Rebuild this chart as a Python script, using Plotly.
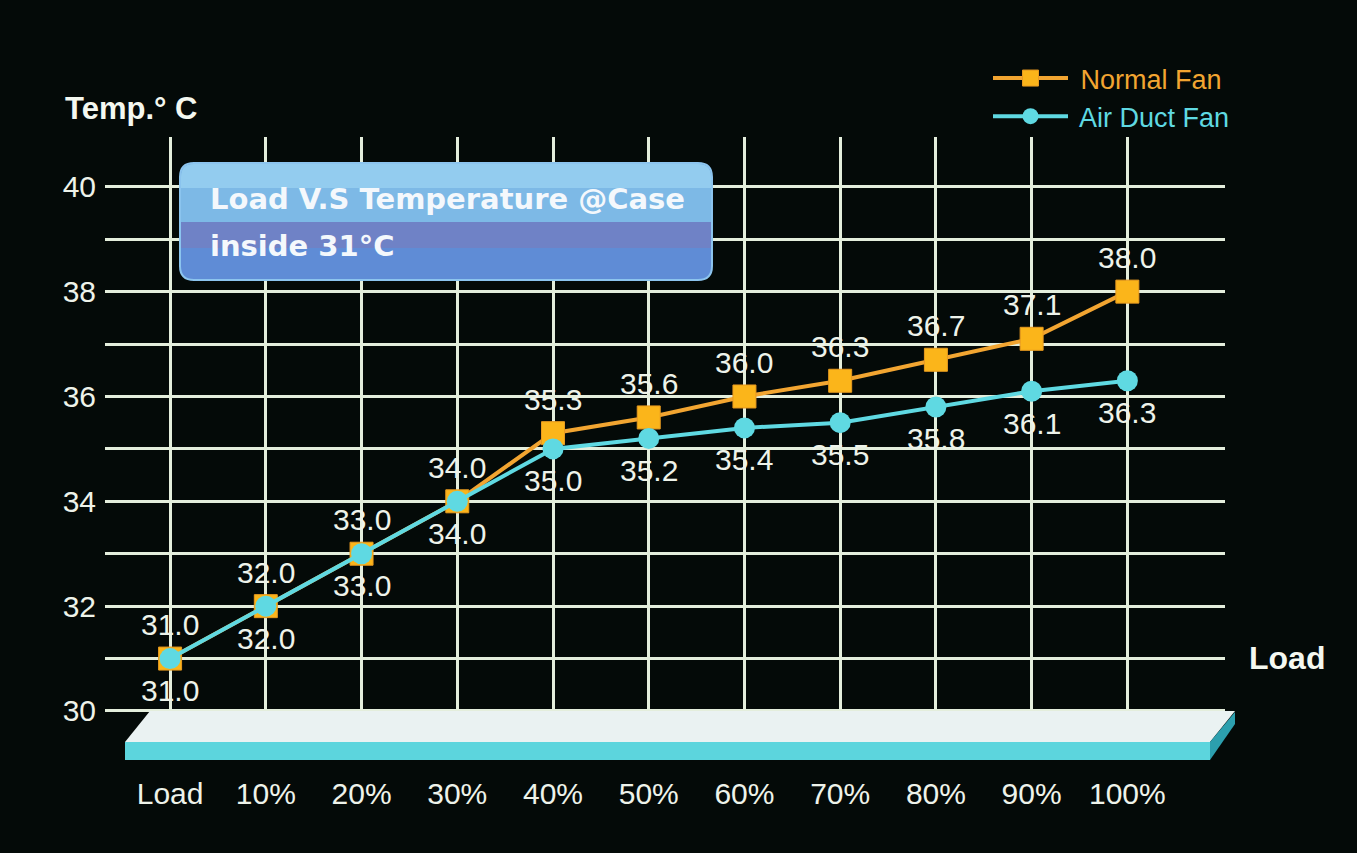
import plotly.graph_objects as go

# ---- data ----
loads = ["Load", "10%", "20%", "30%", "40%", "50%", "60%", "70%", "80%", "90%", "100%"]
normal_fan = [31.0, 32.0, 33.0, 34.0, 35.3, 35.6, 36.0, 36.3, 36.7, 37.1, 38.0]
air_duct_fan = [31.0, 32.0, 33.0, 34.0, 35.0, 35.2, 35.4, 35.5, 35.8, 36.1, 36.3]
y_tickvals = [30, 31, 32, 33, 34, 35, 36, 37, 38, 39, 40]
y_ticktext = ["30", "", "32", "", "34", "", "36", "", "38", "", "40"]

W, H = 1357, 853
PL, PR, PT, PB = 105, 1225, 137, 760  # plot area in pixels
FONT = "Arial, Liberation Sans, sans-serif"
BG = "#040a08"
GRID = "#e4eedc"
ORANGE = "#f2a531"
ORANGE_M = "#fbb51a"
CYAN = "#5fd9e2"
LABEL = "#eef3ea"


def px(x):
    return (x - PL) / (PR - PL)


def py(y):
    return (PB - y) / (PB - PT)


def poly(points):
    return "M " + " L ".join(f"{px(a):.5f},{py(b):.5f}" for a, b in points) + " Z"


def rrect(x0, y0, x1, y1, r, top=True, bottom=True):
    rt = r if top else 0
    rb = r if bottom else 0
    p = []
    p.append(f"M {px(x0 + rt):.5f},{py(y0):.5f}")
    p.append(f"L {px(x1 - rt):.5f},{py(y0):.5f}")
    p.append(f"Q {px(x1):.5f},{py(y0):.5f} {px(x1):.5f},{py(y0 + rt):.5f}")
    p.append(f"L {px(x1):.5f},{py(y1 - rb):.5f}")
    p.append(f"Q {px(x1):.5f},{py(y1):.5f} {px(x1 - rb):.5f},{py(y1):.5f}")
    p.append(f"L {px(x0 + rb):.5f},{py(y1):.5f}")
    p.append(f"Q {px(x0):.5f},{py(y1):.5f} {px(x0):.5f},{py(y1 - rb):.5f}")
    p.append(f"L {px(x0):.5f},{py(y0 + rt):.5f}")
    p.append(f"Q {px(x0):.5f},{py(y0):.5f} {px(x0 + rt):.5f},{py(y0):.5f} Z")
    return " ".join(p)


fig = go.Figure()

fig.add_trace(go.Scatter(
    x=loads, y=normal_fan, name=f"<span style='color:{ORANGE}'> Normal Fan</span>",
    mode="lines+markers",
    line=dict(color=ORANGE, width=4),
    marker=dict(symbol="square", size=23, color=ORANGE_M, line=dict(color="#e89a20", width=1)),
))
fig.add_trace(go.Scatter(
    x=loads, y=air_duct_fan, name=f"<span style='color:{CYAN}'> Air Duct Fan</span>",
    mode="lines+markers",
    line=dict(color=CYAN, width=4),
    marker=dict(symbol="circle", size=21, color=CYAN),
))

shapes = []
# title box
shapes.append(dict(type="path", xref="paper", yref="paper", layer="above",
                   path=rrect(180, 163, 712, 280, 14), fillcolor="#5f8cd6",
                   line=dict(color="#8cc4ee", width=2)))
shapes.append(dict(type="path", xref="paper", yref="paper", layer="above",
                   path=rrect(181, 164, 711, 222, 13, bottom=False), fillcolor="#7db9e6",
                   line=dict(width=0)))
shapes.append(dict(type="path", xref="paper", yref="paper", layer="above",
                   path=rrect(181, 164, 711, 188, 13, bottom=False), fillcolor="#93ccef",
                   line=dict(width=0)))
shapes.append(dict(type="path", xref="paper", yref="paper", layer="above",
                   path=poly([(181, 222), (711, 222), (711, 248), (181, 248)]), fillcolor="#6f82c6",
                   line=dict(width=0)))
# platform
shapes.append(dict(type="path", xref="paper", yref="paper", layer="above",
                   path=poly([(150, 711), (1235, 711), (1210, 742), (125, 742)]),
                   fillcolor="#eaf2f2", line=dict(width=0)))
shapes.append(dict(type="path", xref="paper", yref="paper", layer="above",
                   path=poly([(125, 742), (1210, 742), (1210, 760), (125, 760)]),
                   fillcolor="#5cd5dd", line=dict(width=0)))
shapes.append(dict(type="path", xref="paper", yref="paper", layer="above",
                   path=poly([(1210, 742), (1235, 712), (1235, 724), (1210, 760)]),
                   fillcolor="#2c9fae", line=dict(width=0)))

annotations = [
    dict(text="<b>Load V.S Temperature @Case</b>", xref="paper", yref="paper",
         x=px(208), y=py(199), xanchor="left", yanchor="middle", showarrow=False,
         font=dict(family="DejaVu Sans, sans-serif", size=29, color="#f4f8fc")),
    dict(text="<b>inside 31°C</b>", xref="paper", yref="paper",
         x=px(208), y=py(246), xanchor="left", yanchor="middle", showarrow=False,
         font=dict(family="DejaVu Sans, sans-serif", size=29, color="#f4f8fc")),
    dict(text="<b>Temp.° C</b>", xref="paper", yref="paper",
         x=px(63), y=py(108), xanchor="left", yanchor="middle", showarrow=False,
         font=dict(family=FONT, size=31, color="#f4f8f0")),
    dict(text="<b>Load</b>", xref="paper", yref="paper",
         x=px(1247), y=py(658), xanchor="left", yanchor="middle", showarrow=False,
         font=dict(family=FONT, size=32, color="#f4f8f0")),
]

# value labels, placed from the data lists
for xv, yv in zip(loads, normal_fan):
    annotations.append(dict(text=f"{yv:.1f}", x=xv, y=yv, xref="x", yref="y",
                            yshift=34, showarrow=False,
                            font=dict(family=FONT, size=30, color=LABEL)))
for xv, yv in zip(loads, air_duct_fan):
    annotations.append(dict(text=f"{yv:.1f}", x=xv, y=yv, xref="x", yref="y",
                            yshift=-32, showarrow=False,
                            font=dict(family=FONT, size=30, color=LABEL)))

fig.update_layout(
    width=W, height=H,
    margin=dict(l=PL, r=W - PR, t=PT, b=H - PB, pad=0),
    paper_bgcolor=BG, plot_bgcolor=BG,
    font=dict(family=FONT, color=LABEL),
    showlegend=True,
    legend=dict(x=px(988), y=py(54), xanchor="left", yanchor="top",
                bgcolor="rgba(0,0,0,0)", font=dict(family=FONT, size=27),
                itemwidth=75, tracegroupgap=0),
    shapes=shapes, annotations=annotations,
    xaxis=dict(range=[-0.68, 11.02], showgrid=True, gridcolor=GRID, gridwidth=3,
               zeroline=False, showline=False, ticks="",
               tickfont=dict(family=FONT, size=30, color=LABEL),
               ticklabelstandoff=13, fixedrange=True),
    yaxis=dict(range=[29.065, 40.95], tickmode="array", tickvals=y_tickvals,
               ticktext=y_ticktext, showgrid=True, gridcolor=GRID, gridwidth=3,
               zeroline=False, showline=False, ticks="",
               tickfont=dict(family=FONT, size=30, color=LABEL),
               ticklabelstandoff=8, fixedrange=True),
)

fig.write_html("out.html", config={"displayModeBar": False},
               post_script="document.body.style.margin='0';document.body.style.overflow='hidden';")
